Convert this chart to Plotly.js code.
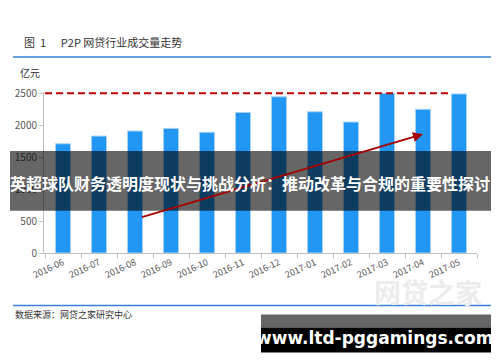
<!DOCTYPE html>
<html><head><meta charset="utf-8">
<script src="https://cdn.plot.ly/plotly-3.0.1.min.js"></script>
<style>html,body{margin:0;padding:0;background:#fff;}#c{width:500px;height:362px;}</style>
</head><body><div id="c"></div>
<script>
const months = ["2016-06","2016-07","2016-08","2016-09","2016-10","2016-11","2016-12","2017-01","2017-02","2017-03","2017-04","2017-05"];
const volume = [1710, 1830, 1910, 1950, 1890, 2200, 2445, 2210, 2050, 2500, 2250, 2490];
const yTicks = [0, 500, 1000, 1500, 2000, 2500];
const refLevel = 2500;
const trendStart = [2.15, 555];
const trendEnd = [10.0, 1860];

const W = 500, H = 362;
const L = 44, R = 477, T = 92, B = 253.3;
const px = x => (x - L) / (R - L);
const py = y => (B - y) / (B - T);

const CJK = '"Noto Sans CJK SC", "Noto Sans", sans-serif';

const trace = {
  type: 'bar', x: months, y: volume,
  marker: {color: '#2196f3', line: {color: '#a9d3f7', width: 1}},
  hoverinfo: 'skip'
};

const layout = {
  width: W, height: H,
  margin: {l: L, r: W - R, t: T, b: H - B},
  paper_bgcolor: '#fff', plot_bgcolor: '#fff',
  showlegend: false, bargap: 0.58,
  font: {family: CJK, color: '#595959'},
  xaxis: {
    type: 'category', tickangle: -25, tickson: 'boundaries',
    ticks: 'outside', ticklen: 4, tickcolor: '#bfbfbf',
    showline: true, linecolor: '#bfbfbf', linewidth: 1,
    showgrid: false, zeroline: false,
    tickfont: {size: 9, color: '#595959', family: CJK}
  },
  yaxis: {
    range: [0, 2520], tickvals: yTicks, ticks: 'outside', ticklen: 4, tickcolor: '#bfbfbf',
    showline: true, linecolor: '#bfbfbf', linewidth: 1,
    showgrid: false, zeroline: false,
    tickfont: {size: 10, color: '#595959', family: CJK}
  },
  shapes: [
    {type: 'line', xref: 'x', yref: 'y', x0: -0.5, x1: 10.8, y0: refLevel, y1: refLevel,
     line: {color: '#c00000', width: 2, dash: '7px,4px'}},
    {type: 'line', xref: 'paper', yref: 'paper', x0: px(13), x1: px(491), y0: py(57), y1: py(57),
     line: {color: '#3a7fd5', width: 1.5}},
    {type: 'line', xref: 'paper', yref: 'paper', x0: px(13), x1: px(491), y0: py(306), y1: py(306),
     line: {color: '#3a7fd5', width: 1.5}},
    {type: 'rect', xref: 'paper', yref: 'paper', x0: px(10), x1: px(491), y0: py(151), y1: py(211),
     fillcolor: 'rgba(0,0,0,0.6)', line: {width: 0}},
    {type: 'rect', xref: 'paper', yref: 'paper', x0: px(261), x1: px(491), y0: py(315), y1: py(328),
     fillcolor: 'rgba(0,0,0,0.6)', line: {width: 0}},
    {type: 'rect', xref: 'paper', yref: 'paper', x0: px(261), x1: px(491), y0: py(328), y1: py(353),
     fillcolor: '#000', line: {width: 0}}
  ],
  annotations: [
    {xref: 'paper', yref: 'paper', x: px(22), y: py(42), xanchor: 'left', yanchor: 'middle', showarrow: false,
     text: '图  1      P2P 网贷行业成交量走势', font: {size: 11, color: '#333', family: CJK}},
    {xref: 'paper', yref: 'paper', x: px(18), y: py(72), xanchor: 'left', yanchor: 'middle', showarrow: false,
     text: '亿元', font: {size: 10, color: '#333', family: CJK}},
    {xref: 'x', yref: 'y', x: trendEnd[0], y: trendEnd[1], axref: 'x', ayref: 'y', ax: trendStart[0], ay: trendStart[1],
     text: '', showarrow: true, arrowhead: 2, arrowsize: 1, arrowwidth: 2, arrowcolor: '#a50000', standoff: 0},
    {xref: 'paper', yref: 'paper', x: px(428), y: py(292), xanchor: 'center', yanchor: 'middle', showarrow: false,
     text: '网贷之家', font: {size: 27, color: '#ececec', family: CJK, weight: 700}},
    {xref: 'paper', yref: 'paper', x: px(13), y: py(315), xanchor: 'left', yanchor: 'middle', showarrow: false,
     text: '数据来源：网贷之家研究中心', font: {size: 9, color: '#333', family: CJK}},
    {xref: 'paper', yref: 'paper', x: px(250), y: py(183), xanchor: 'center', yanchor: 'middle', showarrow: false,
     text: '英超球队财务透明度现状与挑战分析：推动改革与合规的重要性探讨', font: {size: 16, color: '#fff', family: CJK, weight: 700}},
    {xref: 'paper', yref: 'paper', x: px(375), y: py(338), xanchor: 'center', yanchor: 'middle', showarrow: false,
     text: 'www.ltd-pggamings.com', font: {size: 17, color: '#fff', family: '"DejaVu Sans", sans-serif', weight: 700}}
  ]
};

Plotly.newPlot('c', [trace], layout, {displayModeBar: false, staticPlot: true});
</script></body></html>
